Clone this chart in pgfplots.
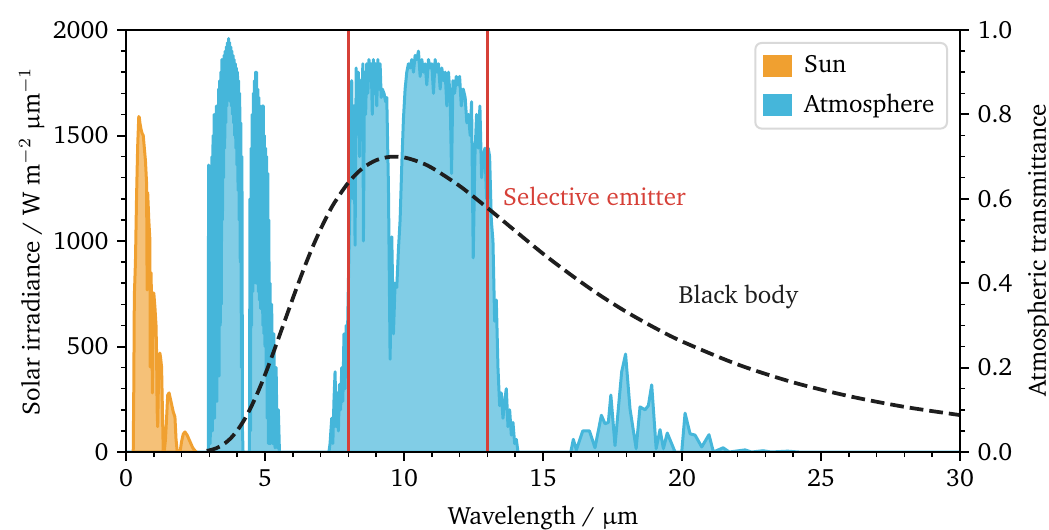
\documentclass[border=0pt]{standalone}
\usepackage[T1]{fontenc}
\usepackage{charter}
\usepackage{upgreek}
\usepackage{pgfplots}
\pgfplotsset{compat=1.18}

\definecolor{sunc}{RGB}{240,160,48}
\definecolor{atmc}{RGB}{69,182,218}
\definecolor{selc}{RGB}{214,64,56}
\definecolor{bbc}{RGB}{30,30,30}

% AM1.5-like solar spectrum, W m^-2 um^-1
\pgfplotstableread{
x y
0.25 0
0.26 0
0.28 300
0.30 740
0.34 900
0.38 1210
0.42 1450
0.46 1590
0.48 1585
0.50 1560
0.54 1530
0.58 1510
0.62 1500
0.66 1440
0.70 1380
0.74 1275
0.76 768
0.78 1230
0.82 1100
0.86 1005
0.87 403
0.90 850
0.93 650
0.95 280
0.97 700
1.00 754
1.04 687
1.08 600
1.10 469
1.12 200
1.14 120
1.17 350
1.22 469
1.25 440
1.28 403
1.31 200
1.34 0
1.38 5
1.42 60
1.46 160
1.50 270
1.55 280
1.60 250
1.65 220
1.70 190
1.76 166
1.80 60
1.84 5
1.88 0
1.95 5
2.00 50
2.06 85
2.12 95
2.20 80
2.30 50
2.40 20
2.50 3
2.54 0
}\suntable

% Atmospheric transmittance (0..1)
\pgfplotstableread{
x y
0.00 0
2.90 0
2.96 0
2.97 0.68
2.99 0.05
3.01 0.62
3.03 0.02
3.05 0.66
3.07 0.10
3.09 0.70
3.11 0.05
3.13 0.75
3.15 0.15
3.17 0.80
3.19 0.08
3.21 0.78
3.23 0.20
3.25 0.82
3.27 0.12
3.29 0.80
3.31 0.25
3.33 0.86
3.35 0.18
3.37 0.88
3.39 0.30
3.41 0.90
3.43 0.35
3.45 0.93
3.47 0.55
3.49 0.92
3.51 0.65
3.53 0.94
3.55 0.72
3.57 0.95
3.59 0.78
3.61 0.96
3.63 0.82
3.65 0.97
3.67 0.85
3.69 0.98
3.71 0.84
3.73 0.97
3.75 0.83
3.77 0.96
3.79 0.82
3.81 0.95
3.83 0.80
3.85 0.94
3.87 0.78
3.89 0.93
3.91 0.75
3.93 0.92
3.95 0.72
3.97 0.91
3.99 0.68
4.01 0.90
4.03 0.62
4.05 0.88
4.07 0.55
4.09 0.85
4.11 0.45
4.13 0.78
4.15 0.20
4.17 0.70
4.19 0.05
4.21 0
4.44 0
4.46 0.60
4.48 0.05
4.50 0.72
4.52 0.30
4.54 0.80
4.56 0.38
4.58 0.85
4.60 0.40
4.62 0.88
4.64 0.42
4.66 0.90
4.68 0.40
4.70 0.90
4.72 0.40
4.74 0.86
4.76 0.38
4.78 0.84
4.80 0.36
4.82 0.82
4.84 0.34
4.86 0.80
4.88 0.34
4.90 0.82
4.92 0.30
4.94 0.82
4.96 0.28
4.98 0.75
5.00 0.25
5.02 0.72
5.04 0.18
5.06 0.70
5.08 0.08
5.10 0.66
5.12 0.02
5.14 0.55
5.16 0.02
5.18 0.40
5.20 0.02
5.24 0.35
5.28 0.02
5.32 0.28
5.36 0.01
5.40 0.20
5.44 0.01
5.48 0.10
5.52 0
7.30 0
7.34 0.02
7.40 0.08
7.44 0.02
7.48 0.12
7.52 0.19
7.56 0.06
7.60 0.14
7.64 0.05
7.68 0.16
7.72 0.10
7.76 0.20
7.80 0.12
7.84 0.28
7.88 0.15
7.92 0.30
7.96 0.25
8.00 0.40
8.04 0.55
8.08 0.75
8.12 0.88
8.16 0.60
8.20 0.82
8.24 0.49
8.28 0.91
8.32 0.78
8.36 0.90
8.40 0.70
8.44 0.88
8.48 0.82
8.52 0.92
8.54 0.50
8.58 0.90
8.62 0.80
8.66 0.92
8.70 0.85
8.74 0.93
8.78 0.88
8.82 0.92
8.86 0.80
8.90 0.93
8.94 0.85
8.98 0.92
9.02 0.82
9.06 0.93
9.10 0.86
9.14 0.92
9.18 0.84
9.22 0.86
9.28 0.85
9.34 0.83
9.38 0.84
9.44 0.63
9.50 0.22
9.56 0.51
9.62 0.28
9.68 0.40
9.74 0.39
9.80 0.48
9.86 0.55
9.92 0.68
9.98 0.79
10.04 0.86
10.10 0.90
10.16 0.92
10.22 0.91
10.28 0.93
10.34 0.90
10.40 0.94
10.46 0.93
10.52 0.95
10.58 0.89
10.64 0.93
10.70 0.90
10.76 0.92
10.82 0.87
10.88 0.93
10.94 0.91
11.00 0.92
11.06 0.85
11.12 0.93
11.18 0.90
11.24 0.92
11.30 0.86
11.36 0.91
11.42 0.88
11.48 0.90
11.54 0.82
11.60 0.90
11.66 0.84
11.71 0.66
11.76 0.88
11.82 0.85
11.88 0.89
11.94 0.87
12.00 0.89
12.06 0.82
12.13 0.86
12.20 0.84
12.26 0.78
12.32 0.80
12.38 0.75
12.43 0.83
12.49 0.46
12.55 0.70
12.61 0.80
12.67 0.72
12.73 0.82
12.79 0.65
12.85 0.70
12.91 0.72
12.97 0.60
13.03 0.72
13.08 0.70
13.14 0.55
13.20 0.50
13.26 0.31
13.32 0.36
13.38 0.20
13.44 0.11
13.50 0.14
13.56 0.08
13.62 0.12
13.68 0.15
13.74 0.06
13.80 0.10
13.86 0.04
13.92 0.07
13.98 0.02
14.04 0.03
14.10 0
15.90 0
16.00 0
16.09 0.03
16.20 0.005
16.43 0.05
16.67 0.05
16.87 0.01
17.10 0.087
17.23 0.067
17.35 0.07
17.44 0.135
17.59 0.015
17.83 0.19
17.97 0.232
18.13 0.102
18.35 0.008
18.49 0.107
18.67 0.10
18.79 0.11
18.91 0.159
19.07 0.008
19.21 0.053
19.33 0.008
19.47 0.045
19.75 0
19.99 0
20.11 0.092
20.29 0.043
20.47 0.04
20.71 0.012
20.97 0.041
21.13 0
21.48 0.01
21.70 0
22.27 0.005
22.50 0
22.92 0.003
23.20 0
23.80 0.002
24.20 0
30.00 0
}\atmtable

% Black body at ~300 K, scaled to the irradiance axis
\pgfplotstableread{
x y
2.9 5.5
3.0 7.8
3.25 18
3.5 35.8
3.75 63
4.0 101.6
4.25 151.8
4.5 213.5
4.75 285.6
5.0 366
5.25 453
5.5 544
5.75 636
6.0 728
6.25 817
6.5 903
6.75 983
7.0 1056
7.25 1123
7.5 1182
8.0 1277
8.5 1344
9.0 1383
9.5 1399
10.0 1396
10.5 1377
11 1347
12 1261
13 1157
14 1048
15 940
16 840
17 747
18 664
19 590
20 524
22 415
24 330
26 265
28 214
30 175
}\bbtable

\begin{document}
\begin{tikzpicture}
\pgfplotsset{
  every axis/.append style={
    scale only axis, width=333.6pt, height=168.8pt,
    xmin=0, xmax=30,
    tick align=outside,
    major tick length=3.5pt, minor tick length=2pt,
    every tick/.style={black, line width=0.8pt},
    every minor tick/.style={black, line width=0.6pt},
    axis line style={line width=0.8pt},
    tick label style={font=\fontsize{10}{12}\selectfont},
    label style={font=\fontsize{10}{12}\selectfont},
    /pgf/number format/assume math mode=true,
  }
}
% transmittance on the right-hand axis
\begin{axis}[
  name=atm,
  hide x axis,
  axis y line*=right,
  ymin=0, ymax=1,
  ytick={0,0.2,...,1.0},
  minor y tick num=3,
  yticklabel style={/pgf/number format/.cd, fixed, fixed zerofill, precision=1},
  ylabel={Atmospheric transmittance},
  ylabel style={at={(axis description cs:1.095,0.478)}, anchor=center},
]
\addplot[draw=atmc, line width=1.2pt, line join=round, fill=atmc, fill opacity=0.68]
  table[x=x, y=y] {\atmtable} \closedcycle;
\end{axis}

% irradiance on the left-hand axis
\begin{axis}[
  name=main,
  axis on top,
  axis background/.style={fill=none},
  xtick={0,5,...,30},
  minor x tick num=4,
  xtick pos=bottom,
  ymin=0, ymax=2000,
  ytick={0,500,...,2000},
  minor y tick num=4,
  ytick pos=left,
  yticklabel style={/pgf/number format/1000 sep={}},
  xlabel={Wavelength / $\upmu$m},
  ylabel={Solar irradiance / W m$^{-2}$ $\upmu$m$^{-1}$},
  xlabel style={at={(axis description cs:0.5,-0.155)}, anchor=center},
  ylabel style={at={(axis description cs:-0.113,0.5)}, anchor=center},
  legend style={
    at={(axis description cs:0.9856,0.9716)}, anchor=north east,
    draw=black!15, line width=0.8pt, rounded corners=2.5pt, fill=white,
    font=\fontsize{10}{12}\selectfont,
    inner xsep=3pt, inner ysep=3pt,
    row sep=3pt,
    /tikz/every odd column/.style={column sep=3pt},
  },
  legend cell align=left,
]
\addplot[draw=sunc, line width=1.2pt, line join=round, fill=sunc, fill opacity=0.65, forget plot]
  table[x=x, y=y] {\suntable} \closedcycle;

% selective emitter: unity emissivity between 8 and 13 um
\addplot[selc, line width=1.1pt, forget plot] coordinates {
  (0,0) (8,0) (8,2000) (13,2000) (13,0) (30,0)
};

\addplot[bbc, line width=1.5pt, dash pattern=on 5.5pt off 2.4pt, smooth, forget plot]
  table[x=x, y=y] {\bbtable};

\node[anchor=west, inner sep=0pt, text=selc, font=\fontsize{10}{12}\selectfont] at (axis cs:13.55,1213) {Selective emitter};
\node[anchor=west, inner sep=0pt, text=bbc, font=\fontsize{10}{12}\selectfont] at (axis cs:19.86,735) {Black body};

\addlegendimage{legend image code/.code={\fill[sunc, sharp corners] (0pt,-3.85pt) rectangle (10.7pt,3.85pt);}}
\addlegendentry{Sun}
\addlegendimage{legend image code/.code={\fill[atmc, sharp corners] (0pt,-3.85pt) rectangle (10.7pt,3.85pt);}}
\addlegendentry{Atmosphere}
\end{axis}

\pgfresetboundingbox
\path ([shift={(-50.4pt,-30.8pt)}]main.south west) rectangle ([shift={(35.6pt,12pt)}]main.north east);
\end{tikzpicture}
\end{document}
